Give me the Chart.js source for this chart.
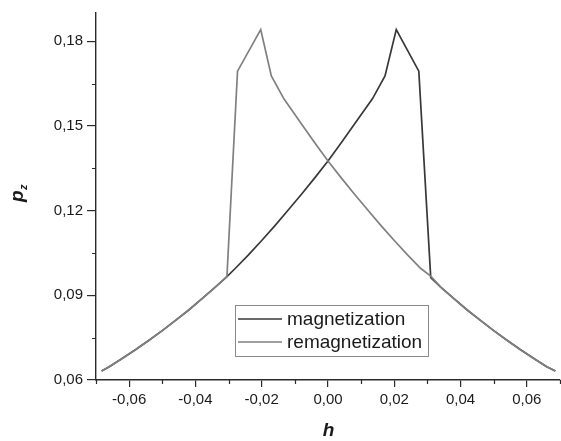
<!DOCTYPE html>
<html>
<head>
<meta charset="utf-8">
<script src="https://cdn.jsdelivr.net/npm/chart.js@4.4.1/dist/chart.umd.min.js"></script>
<style>
  html, body { margin: 0; padding: 0; background: #ffffff; }
  #wrap { width: 561px; height: 441px; position: relative; }
</style>
</head>
<body>
<div id="wrap"><canvas id="c" width="561" height="441"></canvas></div>
<script>
// ---- data ----
const magX = [-0.0683, -0.066, -0.062, -0.058, -0.054, -0.050, -0.046, -0.042, -0.038, -0.034,
  -0.0305, -0.028, -0.024, -0.020, -0.016, -0.012, -0.008, -0.004, 0.000, 0.004,
  0.008, 0.0134, 0.0172, 0.0206, 0.0274, 0.0310, 0.034, 0.038, 0.042, 0.046,
  0.050, 0.054, 0.058, 0.062, 0.066, 0.0686];
const magY = [0.0632, 0.0647, 0.0677, 0.0708, 0.0741, 0.0775, 0.0811, 0.0848, 0.0888, 0.0929,
  0.0966, 0.0995, 0.1043, 0.1094, 0.1147, 0.1202, 0.1258, 0.1316, 0.1376, 0.1440,
  0.1507, 0.1596, 0.1677, 0.1841, 0.1694, 0.0963, 0.0929, 0.0888, 0.0848, 0.0811,
  0.0775, 0.0741, 0.0708, 0.0677, 0.0647, 0.0632];

const remagX = [-0.0683, -0.066, -0.062, -0.058, -0.054, -0.050, -0.046, -0.042, -0.038, -0.034,
  -0.0305, -0.0273, -0.0203, -0.0171, -0.0133, -0.008, -0.004, 0.000, 0.004, 0.008,
  0.012, 0.016, 0.020, 0.024, 0.028, 0.031, 0.034, 0.038, 0.042, 0.046,
  0.050, 0.054, 0.058, 0.062, 0.066, 0.0686];
const remagY = [0.0632, 0.0647, 0.0677, 0.0708, 0.0741, 0.0775, 0.0811, 0.0848, 0.0888, 0.0929,
  0.0966, 0.1694, 0.1841, 0.1677, 0.1596, 0.1507, 0.1440, 0.1376, 0.1316, 0.1258,
  0.1202, 0.1147, 0.1094, 0.1043, 0.0995, 0.0968, 0.0929, 0.0888, 0.0848, 0.0811,
  0.0775, 0.0741, 0.0708, 0.0677, 0.0647, 0.0632];

const seriesNames = ['magnetization', 'remagnetization'];
const xTickValues = [-0.06, -0.04, -0.02, 0.00, 0.02, 0.04, 0.06];
const xTickLabels = ['-0,06', '-0,04', '-0,02', '0,00', '0,02', '0,04', '0,06'];
const yTickValues = [0.06, 0.09, 0.12, 0.15, 0.18];
const yTickLabels = ['0,06', '0,09', '0,12', '0,15', '0,18'];
const xMinorTicks = [-0.07, -0.05, -0.03, -0.01, 0.01, 0.03, 0.05, 0.07];
const yMinorTicks = [0.075, 0.105, 0.135, 0.165];
const xTitle = 'h';
const yTitleMain = 'p';
const yTitleSub = 'z';

// ---- styles ----
const FONT = '"Liberation Sans", Arial, Helvetica, sans-serif';
const MAG_COLOR = '#383838';
const REMAG_COLOR = '#808080';
const AXIS_COLOR = '#2a2a2a';
const TEXT_COLOR = '#1a1a1a';

const toPts = (xs, ys) => xs.map((x, i) => ({x: x, y: ys[i]}));

const extras = {
  id: 'extras',
  afterDraw(chart) {
    const ctx = chart.ctx;
    const xs = chart.scales.x, ys = chart.scales.y;
    const area = chart.chartArea;
    ctx.save();
    // minor ticks
    ctx.strokeStyle = AXIS_COLOR;
    ctx.lineWidth = 1.2;
    ctx.beginPath();
    xMinorTicks.forEach(v => {
      const px = Math.round(xs.getPixelForValue(v)) + 0.5;
      ctx.moveTo(px, area.bottom);
      ctx.lineTo(px, area.bottom + 4);
    });
    yMinorTicks.forEach(v => {
      const py = Math.round(ys.getPixelForValue(v)) + 0.5;
      ctx.moveTo(area.left, py);
      ctx.lineTo(area.left - 4, py);
    });
    ctx.stroke();

    // x title
    ctx.fillStyle = TEXT_COLOR;
    ctx.font = 'italic bold 19px ' + FONT;
    ctx.textAlign = 'center';
    ctx.textBaseline = 'alphabetic';
    ctx.fillText(xTitle, (area.left + area.right) / 2 + 0.5, 436);

    // y title (rotated, with subscript)
    ctx.save();
    ctx.translate(23, 202);
    ctx.rotate(-Math.PI / 2);
    ctx.textAlign = 'left';
    ctx.font = 'italic bold 19px ' + FONT;
    ctx.fillText(yTitleMain, 0, 0);
    const pw = ctx.measureText(yTitleMain).width;
    ctx.font = 'italic bold 11px ' + FONT;
    ctx.fillText(yTitleSub, pw + 0.5, 4);
    ctx.restore();

    // legend
    ctx.strokeStyle = '#8a8a8a';
    ctx.lineWidth = 1;
    ctx.strokeRect(235.5, 305.5, 193, 51);
    const rows = [
      {name: seriesNames[0], color: MAG_COLOR, y: 319},
      {name: seriesNames[1], color: REMAG_COLOR, y: 342}
    ];
    ctx.font = '19px ' + FONT;
    ctx.textAlign = 'left';
    ctx.textBaseline = 'alphabetic';
    rows.forEach(r => {
      ctx.strokeStyle = r.color;
      ctx.lineWidth = 1.6;
      ctx.beginPath();
      ctx.moveTo(238, r.y);
      ctx.lineTo(282, r.y);
      ctx.stroke();
      ctx.fillStyle = TEXT_COLOR;
      ctx.fillText(r.name, 287, r.y + 6);
    });
    ctx.restore();
  }
};

new Chart(document.getElementById('c'), {
  type: 'line',
  data: {
    datasets: [
      {
        label: seriesNames[0],
        data: toPts(magX, magY),
        borderColor: MAG_COLOR,
        borderWidth: 1.7,
        pointRadius: 0,
        tension: 0,
        fill: false,
        order: 2
      },
      {
        label: seriesNames[1],
        data: toPts(remagX, remagY),
        borderColor: REMAG_COLOR,
        borderWidth: 1.7,
        pointRadius: 0,
        tension: 0,
        fill: false,
        order: 1
      }
    ]
  },
  options: {
    responsive: false,
    animation: false,
    events: [],
    layout: { padding: { top: 6, right: 1, left: 0, bottom: 0 } },
    plugins: { legend: { display: false }, tooltip: { enabled: false }, title: { display: false } },
    scales: {
      x: {
        type: 'linear',
        min: -0.07,
        max: 0.07,
        afterBuildTicks: s => { s.ticks = xTickValues.map(v => ({value: v})); },
        afterFit: s => { s.height = 61; },
        grid: { display: true, drawOnChartArea: false, drawTicks: true, tickLength: 7, color: AXIS_COLOR, lineWidth: 1.2 },
        border: { display: true, color: AXIS_COLOR, width: 1.4 },
        ticks: {
          padding: 4,
          color: TEXT_COLOR,
          font: { family: FONT, size: 15 },
          maxRotation: 0,
          autoSkip: false,
          callback: (v, i) => xTickLabels[i]
        }
      },
      y: {
        type: 'linear',
        min: 0.06,
        max: 0.19,
        afterBuildTicks: s => { s.ticks = yTickValues.map(v => ({value: v})); },
        afterFit: s => { s.width = 96; },
        grid: { display: true, drawOnChartArea: false, drawTicks: true, tickLength: 9, color: AXIS_COLOR, lineWidth: 1.2 },
        border: { display: true, color: AXIS_COLOR, width: 1.4 },
        ticks: {
          padding: 4,
          color: TEXT_COLOR,
          font: { family: FONT, size: 15 },
          autoSkip: false,
          callback: (v, i) => yTickLabels[i]
        }
      }
    }
  },
  plugins: [extras]
});
</script>
</body>
</html>
